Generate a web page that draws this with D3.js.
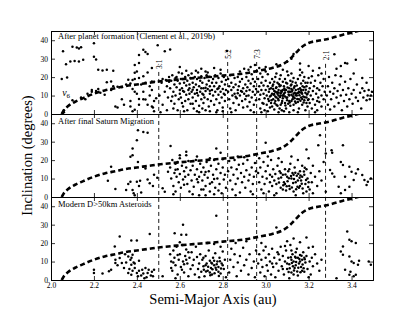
<!DOCTYPE html>
<html>
<head>
<meta charset="utf-8">
<script src="https://cdn.jsdelivr.net/npm/d3@7"></script>
<style>
body { margin: 0; background: #fff; }
text { font-family: "Liberation Serif", "Times New Roman", serif; }
</style>
</head>
<body>
<div id="chart"></div>
<script>
// ---- data ----
var panelTitles = ["After planet formation (Clement et al., 2019b)", "After final Saturn Migration", "Modern D>50km Asteroids"];
var xTicks = [2.0, 2.2, 2.4, 2.6, 2.8, 3.0, 3.2, 3.4];
var yTicks = [0, 10, 20, 30, 40];

// mean motion resonances with Jupiter
var resA = [2.502, 2.823, 2.958, 3.279];
var resLabels = ["3:1", "5:2", "7:3", "2:1"];
var resLabelInc = [27, 32.5, 32.5, 31.8];
var resTopInc = [22.8, 28.2, 28.2, 27.2];

// nu6 secular resonance
var nu6Curve = [[2.05,0],[2.06,2],[2.08,4.3],[2.11,6.5],[2.15,8.6],[2.2,11],[2.25,12.8],[2.3,14],[2.35,15.2],[2.4,16],
	[2.45,16.8],[2.5,17.6],[2.6,18.8],[2.7,19.8],[2.8,20.8],[2.9,22],[2.97,23.5],[3.03,25],[3.08,27],[3.11,29.5],
	[3.14,33],[3.17,36.5],[3.2,38.5],[3.25,39.8],[3.3,41],[3.36,43],[3.42,44.7],[3.46,46]];

var formationPts = [
	[2.05,19],[2.07,27],[2.056,34],[2.10,36.5],[2.12,36],[2.13,35.5],[2.14,36.2],[2.09,28.5],[2.11,28.7],[2.13,28.5],
	[2.075,19.8],[2.15,29.4],[2.2,38.3],[2.2,31],[2.21,29.6],[2.22,24],[2.24,23.6],[2.26,24],[2.29,23.4],[2.26,17.2],
	[2.28,17.6],[2.39,26.6],[2.41,32],[2.43,34.8],[2.44,33.6],[2.45,32.5],[2.41,27.6],[2.47,24.9],[2.47,17.6],[2.4,23],
	[2.39,22.3],[2.30,4],[2.34,5],[2.37,4],[2.37,7],[2.38,1.5],[2.39,2.3],[2.41,8.2],[2.43,8],[2.44,7.8],
	[2.45,5],[2.47,4],[2.475,3.5],[2.48,7],[2.49,8.6],[2.4,11],[2.39,12],[2.41,5],[2.36,18.6],[2.38,18.5],
	[2.39,19],[2.17,11],[2.19,12],[2.21,12.5],[2.23,11.5],[2.25,10.5],[2.28,13],[2.31,14.8],[2.33,14.5],[2.35,16],
	[2.37,16.5],[2.42,16],[2.44,17],[2.46,15],[2.48,17.5],[2.14,9],[2.16,8],[2.19,13],[2.22,13.5],[2.29,15],
	[2.10,7.5],[2.06,1],[2.06,2],[2.055,0.5],[2.41,19.5],[2.43,20.5],[2.45,22.5],[2.46,10],[2.47,13],[2.38,13.5],
	[2.43,12],[2.33,8],[2.31,3.5],[2.48,1.5],[2.53,34],[2.555,35],[2.497,37.3],
	[2.505,10],[2.51,1],[2.515,17],[2.52,19],[2.52,5],[2.53,12],[2.535,18.5],[2.54,2],[2.54,15],[2.545,9],[2.55,17.5],[2.55,20],
	[2.555,14],[2.56,18],[2.56,7],[2.565,21],[2.57,12],[2.57,3],[2.575,16],[2.58,19.5],[2.58,10],[2.585,14.5],
	[2.59,2],[2.59,18],[2.595,8],[2.595,22.5],[2.6,13],[2.6,16.5],[2.6,11],[2.565,9.5],[2.575,5.5],[2.585,20],
	[2.605,19],[2.605,9],[2.61,14],[2.61,22],[2.615,4],[2.62,17],[2.62,12],[2.625,20],[2.625,7],[2.63,15.5],
	[2.63,10.5],[2.635,18],[2.635,2],[2.64,13],[2.64,21],[2.64,8],[2.645,16],[2.645,11],[2.65,19.5],[2.65,5.5],
	[2.62,1.5],[2.63,23.5],[2.61,6],[2.645,14],[2.615,12.5],
	[2.655,12],[2.655,22],[2.66,17],[2.66,9],[2.665,14.5],[2.665,3],[2.67,20],[2.67,11],[2.675,16],[2.675,7],
	[2.68,13],[2.68,19],[2.685,10],[2.685,22.5],[2.69,15],[2.69,4.5],[2.695,18],[2.695,12],[2.7,8],[2.7,20.5],
	[2.68,1.5],[2.66,5.5],[2.69,1],[2.7,14],[2.675,23.5],
	[2.705,11],[2.705,17],[2.71,6],[2.71,14],[2.715,19.5],[2.715,9],[2.72,12.5],[2.72,2],[2.725,16],[2.725,21],
	[2.73,8],[2.73,13.5],[2.735,18],[2.735,4],[2.74,11],[2.74,15],[2.745,20],[2.745,7],[2.75,13],[2.75,17],
	[2.72,23],[2.74,1.5],[2.71,10.5],[2.73,22.5],[2.705,3],
	[2.755,10],[2.755,19],[2.76,15],[2.76,5],[2.765,12],[2.765,21],[2.77,17],[2.77,8],[2.775,13.5],[2.775,2],
	[2.78,19.5],[2.78,10.5],[2.785,15],[2.785,6],[2.79,12],[2.79,22],[2.795,17.5],[2.795,9],[2.8,13.5],[2.8,3.5],
	[2.805,20],[2.805,11],[2.81,16],[2.81,7],[2.815,18.5],[2.815,13],[2.77,1],[2.8,1.5],[2.79,24],[2.76,25],
	[2.825,12],[2.825,19],[2.83,8],[2.83,15],[2.835,3],[2.835,21],[2.84,13],[2.84,17],[2.845,10],[2.85,6],
	[2.85,14.5],[2.855,19.5],[2.855,11],[2.86,16],[2.86,2],[2.865,8.5],[2.87,13],[2.87,20],[2.875,15],[2.875,5],
	[2.88,10],[2.88,17.5],[2.885,12.5],[2.89,7],[2.89,19],[2.895,14],[2.895,3.5],[2.9,11],[2.84,1],[2.88,23],
	[2.905,16],[2.905,8],[2.91,12.5],[2.91,20],[2.915,4],[2.915,14.5],[2.92,10],[2.92,18],[2.925,6.5],[2.925,13],
	[2.93,16.5],[2.93,2],[2.935,9],[2.935,21.5],[2.94,12],[2.94,19],[2.945,5],[2.945,15],[2.95,10.5],[2.95,17.5],
	[2.955,7.5],[2.955,13.5],[2.92,24],[2.945,1],[2.93,25.5],
	[2.965,12],[2.965,19],[2.97,8],[2.97,15],[2.975,3],[2.975,10.5],[2.98,17],[2.98,13],[2.985,6],[2.985,20],
	[2.99,11],[2.99,15.5],[2.995,8.5],[2.995,2],[3.0,13],[3.0,18],[3.005,5],[3.005,10],[3.01,15],[3.01,21.5],
	[3.015,7],[3.015,12],[3.02,17],[3.02,3.5],[2.98,1],[3.0,23],[3.01,1.5],[2.975,22],[2.99,5.5],[3.02,9.5],
	[3.025,14],[3.025,6],[3.03,11],[3.03,19],[3.035,8],[3.035,16],[3.04,2.5],[3.04,12.5],[3.045,20],[3.045,9.5],
	[3.05,14.5],[3.05,5],[3.055,11],[3.055,17],[3.06,7.5],[3.06,13],[3.065,3],[3.065,19],[3.07,10],[3.07,15.5],
	[3.075,12],[3.075,6],[3.08,17.5],[3.08,8.5],[3.03,4],[3.04,17.5],[3.05,22],[3.06,1],[3.07,21],[3.035,13.5],
	[3.045,7],[3.055,4.5],[3.065,15],[3.075,2],[3.08,13],[3.025,10],[3.045,12],[3.06,10],[3.07,5],[3.05,9],
	[3.085,11],[3.085,15],[3.09,6],[3.09,19],[3.095,13],[3.095,3],[3.1,9],[3.1,16.5],[3.105,12],[3.105,21],
	[3.11,7],[3.11,14],[3.115,18],[3.115,4.5],[3.12,10.5],[3.12,16],[3.125,8],[3.125,13],[3.13,19.5],[3.13,2],
	[3.135,11.5],[3.135,15],[3.14,6],[3.14,17],[3.085,1.5],[3.1,23],[3.11,10],[3.12,22],[3.13,5],[3.09,9.5],
	[3.095,17],[3.105,5.5],[3.115,12],[3.125,17.5],[3.135,8.5],[3.14,13],[3.09,13],[3.11,1],[3.12,7],[3.13,11],
	[3.145,10],[3.145,15.5],[3.15,6.5],[3.15,19],[3.155,12],[3.155,3],[3.16,14],[3.16,21],[3.165,9],[3.165,16.5],
	[3.17,11],[3.17,5],[3.175,18],[3.175,13],[3.18,7.5],[3.18,20],[3.185,11.5],[3.185,2],[3.19,15],[3.19,9],
	[3.195,17],[3.195,4],[3.2,12],[3.2,19.5],[3.15,1],[3.16,24],[3.17,22.5],[3.18,14.5],[3.19,6],[3.2,8],
	[3.155,8],[3.165,13],[3.175,9.5],[3.185,17],[3.195,11],
	[3.205,14],[3.205,6],[3.21,17],[3.21,10],[3.215,3],[3.215,20.5],[3.22,12.5],[3.22,8],[3.225,15],[3.23,5],
	[3.23,18],[3.235,11],[3.24,14],[3.24,2],[3.245,9],[3.245,21],[3.25,13],[3.25,6.5],[3.255,17],[3.26,10],
	[3.26,4],[3.265,15],[3.27,8],[3.27,19],[3.275,12],[3.22,23.5],[3.25,25],[3.23,1],[3.26,22],[3.24,7],
	[3.285,10],[3.29,15],[3.29,5],[3.295,20],[3.3,12],[3.3,2.5],[3.305,8],[3.31,17],[3.315,11],[3.32,4],
	[3.32,14],[3.325,21],[3.33,9],[3.335,12.5],[3.34,6],[3.345,16],[3.35,10],[3.355,2],[3.36,13],[3.365,7],
	[3.37,17.5],[3.375,10.5],[3.38,4],[3.385,14],[3.39,8],[3.395,19],[3.4,11],[3.405,5.5],[3.41,13],[3.42,9],
	[3.425,16],[3.43,7],[3.44,11.5],[3.445,3],[3.45,14],[3.455,9],[3.46,12.5],[3.47,7.5],[3.475,10],[3.48,13],
	[3.485,8],[3.49,10],[3.495,12],[3.35,20.5],[3.41,22],[3.32,32.4],[3.37,27.6],[3.42,29.4],[3.35,26],[3.38,27.4],
	[3.33,24.5],[3.45,19.5],[3.47,17],
	[2.82,34.2],[2.97,25],[3.1,28.3],[3.12,30],[3.16,27.4],[3.2,26],[3.05,27],[3.08,24],[2.95,26.5],[2.9,24.5],
	[2.6,25.5],[2.7,24.5],[3.0,25.5],[3.13,32.5],
	// densest core, 3.0 - 3.2 au
	[3.012,8.2],[3.018,13.6],[3.027,7.4],[3.032,15.2],[3.038,10.4],[3.042,5.8],[3.048,14.1],[3.053,11.8],[3.058,8.3],[3.062,16.1],
	[3.067,9.2],[3.072,12.6],[3.077,7.1],[3.082,10.2],[3.087,13.8],[3.092,4.6],[3.097,8.8],[3.102,14.4],[3.107,10.6],[3.112,6.2],
	[3.117,15.4],[3.122,12.2],[3.127,9.6],[3.132,14.2],[3.137,6.8],[3.142,11.1],[3.147,8.2],[3.152,13.4],[3.157,10.1],[3.162,7.2],
	[3.167,11.8],[3.172,15.1],[3.177,6.2],[3.182,9.1],[3.187,13.2],[3.192,10.6],[3.197,7.6],[3.07,11.3],[3.09,11.6],[3.11,12.1],
	[3.13,9.1],[3.15,11.4],[3.17,8.1],[3.1,7.4],[3.12,13.5],[3.14,10.2],[3.16,11.6],[3.08,9.9],[3.06,11.6],[3.04,10.8],
	[2.87,11.2],[2.86,9.4],[2.89,12.1],[2.91,9.8],[2.66,13.1],[2.68,11.4],[2.72,14.2],[2.74,12.6],[2.78,13.9],[2.81,10.4]
];

var saturnPts = [
	[2.405,36.2],[2.43,35.3],[2.45,34.8],[2.4,30.8],[2.38,26.3],[2.38,22.7],[2.37,21.8],[2.405,19],[2.43,16.4],[2.44,15.5],
	[2.28,16.4],[2.265,8.8],[2.3,4.3],[2.35,3.8],[2.37,8.3],[2.36,7],[2.38,3.8],[2.385,2],[2.40,8.3],[2.415,8.8],
	[2.42,2.5],[2.45,9.5],[2.46,7.4],[2.475,6],[2.52,4.7],[2.545,13.7],[2.557,27.6],[2.53,2.9],[2.39,1],[2.48,12],
	[2.495,10.5],[2.41,6],
	[2.555,16],[2.56,10],[2.565,20],[2.57,6],[2.575,13],[2.58,18],[2.58,3],[2.585,11],[2.59,15],[2.595,8],
	[2.6,21],[2.6,12.5],[2.605,5],[2.61,17],[2.615,9.5],[2.62,14],[2.6,22.7],[2.63,24.5],[2.63,22.7],[2.57,1.5],[2.59,19],
	[2.625,11],[2.63,16],[2.635,7],[2.64,19.5],[2.64,12],[2.645,3],[2.65,14.5],[2.655,9],[2.66,17],[2.665,5.5],
	[2.67,12],[2.675,20],[2.68,15],[2.685,8],[2.69,11],[2.695,18],[2.7,4],[2.7,13.5],[2.66,1.5],[2.68,22],[2.69,1],
	[2.705,9],[2.71,16],[2.715,12],[2.72,6],[2.725,19],[2.73,10.5],[2.735,14],[2.74,3],[2.745,17],[2.75,8],
	[2.755,12],[2.76,20],[2.765,5],[2.77,15],[2.775,10],[2.78,18],[2.785,7],[2.79,13],[2.795,2],[2.8,16],
	[2.805,9.5],[2.81,12],[2.815,5],[2.77,26.3],[2.79,24],[2.72,1],[2.76,1.5],[2.74,21],[2.8,20.5],[2.71,4],[2.78,3.5],
	[2.825,14],[2.83,19.5],[2.835,9],[2.84,16],[2.845,4],[2.85,12],[2.855,20],[2.86,7],[2.865,15],[2.87,10],
	[2.875,17.5],[2.88,2.5],[2.885,13],[2.89,8],[2.895,18],[2.9,11],[2.905,5],[2.91,14.5],[2.915,20],[2.92,9],
	[2.925,12],[2.93,3],[2.935,16],[2.94,7],[2.945,11],[2.95,18.5],[2.955,14],[2.86,1],[2.9,21.5],[2.94,1.5],[2.87,22],
	[2.965,13],[2.97,8],[2.975,16],[2.98,4],[2.985,11],[2.99,19],[2.995,7],[3.0,14],[3.0,29.4],[3.005,10],
	[3.01,17],[3.015,3],[3.02,12],[3.025,20],[3.03,6],[3.035,15],[3.04,9],[3.045,12.5],[3.05,2],[3.055,17],
	[3.06,10],[3.065,14],[3.07,5],[3.075,19],[3.08,12],[3.085,8],[3.09,15],[3.095,3.5],[3.1,11],[2.97,21],
	[3.01,22],[3.04,1],[3.06,21],[3.07,13],[3.08,4],[3.03,11],[3.05,7],[2.99,2],[3.02,8],[3.09,7],
	[3.105,14],[3.11,6],[3.115,18],[3.12,10],[3.125,13],[3.13,3],[3.135,16],[3.14,8],[3.145,11.5],[3.15,20],
	[3.155,5],[3.16,14],[3.165,9],[3.17,17],[3.175,2],[3.18,12],[3.185,7],[3.19,15],[3.195,10],[3.2,21],
	[3.205,4],[3.21,13],[3.215,8],[3.22,17],[3.23,11],[3.24,6],[3.25,14],[3.26,9],[3.27,19],[3.12,22],
	[3.14,1],[3.13,12],[3.15,9],[3.17,11],[3.11,15],[3.16,6],[3.19,3],[3.2,8],[3.22,2],[3.19,25.8],
	[3.245,28.1],[3.253,33.5],[3.28,23.6],
	[3.307,25.4],[3.31,24],[3.36,28.1],[3.35,19],[3.36,17.3],[3.39,16.4],[3.4,13.7],[3.37,11],[3.41,9.2],[3.42,12.8],
	[3.45,11.9],[3.46,9.2],[3.476,8.3],[3.47,6.5],[3.34,5.6],[3.35,2],[3.37,3.8],[3.39,5.6],[3.31,12.8],[3.3,14.6],
	[3.32,11],[3.28,2.9],[3.43,15],[3.49,10],
	// dense core
	[3.062,7.8],[3.072,10.6],[3.082,6.4],[3.092,12.2],[3.102,8.6],[3.112,4.4],[3.118,11.4],[3.128,7.6],[3.138,13.2],[3.148,5.6],
	[3.158,10.4],[3.168,7.2],[3.178,13.8],[3.188,9.2],[3.198,5.4],[3.132,9.8],[3.142,4.2],[3.152,12.6],[3.172,4.6],[3.182,15.8],
	[3.122,5.2],[3.108,10.2],[3.098,5.8],[3.162,11.6],[2.58,14.8],[2.62,6.6],[2.68,9.6],[2.72,13.6],[2.76,9.8],[2.74,7.2]
];

var modernPts = [
	[2.32,23.6],[2.374,21.4],[2.40,21.4],[2.46,25],[2.297,18.2],[2.2,5.6],[2.2,3.8],[2.27,4.7],[2.28,5.6],[2.3,11],
	[2.3,9.2],[2.32,11.9],[2.33,9.2],[2.34,6.5],[2.36,12.8],[2.37,11],[2.375,12],[2.374,8.3],[2.38,13.7],[2.385,9.5],
	[2.365,6],[2.36,3.8],[2.374,2.9],[2.38,5],[2.39,6.5],[2.40,3.8],[2.405,2],[2.41,5],[2.42,2.5],[2.425,5.5],
	[2.43,3.5],[2.44,6.5],[2.445,1.5],[2.45,3.8],[2.455,5.5],[2.47,4.5],[2.475,2],[2.48,5.6],[2.465,2.5],[2.435,1],
	[2.39,9],[2.41,10.5],[2.35,9.5],[2.52,2],[2.56,6.5],[2.31,8],[2.345,14],[2.24,3.5],
	[2.615,29.9],[2.576,25.4],[2.607,24.5],[2.63,24.5],[2.555,14],[2.56,10],[2.565,5],[2.57,16],[2.575,12],[2.58,8],
	[2.585,18],[2.59,3],[2.595,11],[2.6,14],[2.605,7],[2.61,19],[2.615,10],[2.62,4],[2.625,13],[2.63,16.5],
	[2.635,9],[2.64,2],[2.645,12],[2.65,6],[2.58,1],[2.6,20.5],[2.62,8.5],[2.64,15],[2.57,9.5],[2.59,13.5],
	[2.61,5.5],[2.63,11],
	[2.655,15],[2.66,8],[2.665,11],[2.67,3],[2.675,18],[2.68,12.5],[2.685,6],[2.69,9],[2.695,14],[2.7,4.5],
	[2.705,11],[2.71,7.5],[2.715,2],[2.72,13],[2.725,9],[2.73,5],[2.735,16],[2.74,10.5],[2.745,6.5],[2.75,3],
	[2.755,12],[2.76,8],[2.765,14.5],[2.77,5.5],[2.775,10],[2.78,7],[2.785,12],[2.79,3.5],[2.795,9],[2.8,15.5],
	[2.805,6],[2.81,11],[2.815,1.5],[2.73,20],[2.77,34.8],[2.76,19.5],[2.79,18],[2.72,8],[2.74,4],[2.76,10.5],
	[2.78,4.5],[2.8,8],[2.75,9],[2.71,12],[2.69,1.5],
	[2.83,4],[2.835,11],[2.84,17],[2.85,7],[2.855,14],[2.865,2],[2.87,9.5],[2.88,13],[2.885,5],[2.895,17.5],
	[2.9,8],[2.91,11],[2.92,3],[2.925,14],[2.935,6.5],[2.945,10],[2.95,1.5],[2.955,16],[2.86,20],[2.91,21],
	[3.05,28.5],
	[2.965,9],[2.97,14],[2.975,4],[2.98,11],[2.985,7],[2.99,16],[2.995,2],[3.0,12],[3.005,8],[3.01,5],
	[3.015,14],[3.02,10],[3.025,3],[3.03,17],[3.035,7],[3.04,12],[3.045,1.5],[3.05,9],[3.055,15],[3.06,5],
	[3.065,11],[3.07,18],[3.075,7.5],[3.08,13],[3.085,3],[3.09,10],[3.095,16],[3.1,6],[3.105,12],[3.11,8.5],
	[3.115,19],[3.12,4],[3.125,14],[3.13,10],[3.135,6.5],[3.14,12],[3.145,17],[3.15,2.5],[3.155,9],[3.16,13.5],
	[3.165,7],[3.17,11],[3.175,15],[3.18,4.5],[3.185,9.5],[3.19,13],[3.195,6],[3.2,17.5],[3.205,10],[3.21,3],
	[3.215,12],[3.22,7.5],[3.23,14],[3.24,9],[3.25,5],[3.26,11],[3.1,21],[3.13,22.5],[3.16,20.5],[3.19,23],
	[3.12,16],[3.14,8],[3.11,1],[3.13,3],[3.17,5],[3.15,12],[3.12,11],[3.1,9],[3.16,10],[3.08,6],
	[3.06,14],[3.03,9],[3.18,12],[3.14,15],[3.09,18.5],[3.2,1.5],[3.22,18],[3.0,18],[2.98,20],
	[3.38,26.3],[3.39,21.8],[3.4,21],[3.42,20],[3.36,18.2],[3.35,15.5],[3.36,13.7],[3.39,12.8],[3.4,10],[3.41,9.2],
	[3.43,8.3],[3.435,10.5],[3.37,5.6],[3.395,4.5],[3.39,2.9],[3.41,2],[3.42,2.9],[3.48,10],[3.49,8.3],[3.33,1],
	// dense cores near 2.75 and 3.15 au
	[2.722,4.6],[2.732,7.2],[2.742,2.6],[2.752,5.8],[2.762,3.6],[2.772,8.6],[2.782,2.2],[2.792,6.2],[2.747,9.4],[2.767,6.6],
	[2.787,10.2],[2.712,5.6],[3.112,6.4],[3.122,9.2],[3.132,5.2],[3.142,9.8],[3.152,6.6],[3.162,4.2],[3.172,8.4],[3.182,11.2],
	[3.137,12.6],[3.147,4.6],[3.157,11.4],[3.127,7.4],[3.167,13.2],[3.117,12.4],[3.177,6.4],[3.107,4.4]
];

var panelPts = [formationPts, saturnPts, modernPts];
var titleInc = [40.8, 39.4, 39.6];

// ---- layout ----
var W = 415, H = 312;
var plotLeft = 51, plotRight = 373, plotTop = 31, panelH = 83;

var svg = d3.select("#chart").append("svg")
	.attr("width", W)
	.attr("height", H)
	.style("display", "block");

svg.append("rect").attr("width", W).attr("height", H).attr("fill", "#fff");

var x = d3.scaleLinear().domain([2.0, 3.5]).range([plotLeft, plotRight]);

var nu6Line = d3.line()
	.x(function(d){ return x(d[0]); });

var yScales = [];

panelPts.forEach(function(pts, k){
	var top = plotTop + k * panelH;
	var y = d3.scaleLinear().domain([0, 45]).range([top + panelH, top]);
	yScales.push(y);

	var clipId = "clip" + k;
	svg.append("clipPath").attr("id", clipId)
		.append("rect")
			.attr("x", plotLeft).attr("y", top)
			.attr("width", plotRight - plotLeft).attr("height", panelH);

	var g = svg.append("g").attr("clip-path", "url(#" + clipId + ")");

	g.selectAll(".dot").data(pts)
		.enter().append("circle")
			.attr("class", "dot")
			.attr("cx", function(d){ return x(d[0]); })
			.attr("cy", function(d){ return y(d[1]); })
			.attr("r", 1.25)
			.attr("fill", "#000");

	g.append("path")
		.datum(nu6Curve)
		.attr("d", nu6Line.y(function(d){ return y(d[1]); }).curve(d3.curveMonotoneX))
		.attr("fill", "none")
		.attr("stroke", "#000")
		.attr("stroke-width", 2.6)
		.attr("stroke-dasharray", "5,3");

	// frame + inward ticks on all four sides
	svg.append("g")
		.attr("transform", "translate(0," + (top + panelH) + ")")
		.call(d3.axisBottom(x).tickValues(xTicks).tickSize(-4).tickPadding(3)
			.tickFormat(k === 2 ? d3.format(".1f") : ""))
		.call(styleAxis);
	svg.append("g")
		.attr("transform", "translate(0," + top + ")")
		.call(d3.axisTop(x).tickValues(xTicks).tickSize(-4).tickFormat(""))
		.call(styleAxis);
	svg.append("g")
		.attr("transform", "translate(" + plotLeft + ",0)")
		.call(d3.axisLeft(y).tickValues(yTicks).tickSize(-4).tickPadding(3))
		.call(styleAxis);
	svg.append("g")
		.attr("transform", "translate(" + plotRight + ",0)")
		.call(d3.axisRight(y).tickValues(yTicks).tickSize(-4).tickFormat(""))
		.call(styleAxis);

	svg.append("text")
		.attr("x", plotLeft + 7)
		.attr("y", y(titleInc[k]))
		.attr("font-size", 8.5)
		.text(panelTitles[k]);
});

function styleAxis(sel){
	sel.select(".domain").attr("stroke", "#000").attr("stroke-width", 1);
	sel.selectAll(".tick line").attr("stroke", "#000").attr("stroke-width", 0.8);
	sel.selectAll(".tick text")
		.attr("fill", "#000")
		.style("font-family", "'Liberation Serif', 'Times New Roman', serif")
		.style("font-size", "7.5px");
}

// resonance lines through all panels
var yTop = yScales[0], yBottom = yScales[2];
resA.forEach(function(a, i){
	svg.append("line")
		.attr("x1", x(a)).attr("x2", x(a))
		.attr("y1", yTop(resTopInc[i]))
		.attr("y2", yBottom(0))
		.attr("stroke", "#000")
		.attr("stroke-width", 0.9)
		.attr("stroke-dasharray", "4,3");
	svg.append("text")
		.attr("transform", "translate(" + (x(a) + 1) + "," + yTop(resLabelInc[i]) + ") rotate(-90)")
		.attr("text-anchor", "middle")
		.attr("dominant-baseline", "central")
		.attr("font-size", 7.5)
		.text(resLabels[i]);
});

// nu6 label
var nu6Text = svg.append("text")
	.attr("x", x(2.052))
	.attr("y", yTop(9.5))
	.attr("font-size", 10)
	.attr("font-style", "italic")
	.text("ν");
nu6Text.append("tspan")
	.attr("dy", 2)
	.attr("font-size", 7)
	.attr("font-style", "normal")
	.text("6");

// axis titles
svg.append("text")
	.attr("x", (plotLeft + plotRight) / 2 + 1)
	.attr("y", 304)
	.attr("text-anchor", "middle")
	.attr("font-size", 14.5)
	.text("Semi-Major Axis (au)");

svg.append("text")
	.attr("transform", "translate(32," + (plotTop + panelH * 1.5) + ") rotate(-90)")
	.attr("text-anchor", "middle")
	.attr("font-size", 14.5)
	.text("Inclination (degrees)");
</script>
</body>
</html>
